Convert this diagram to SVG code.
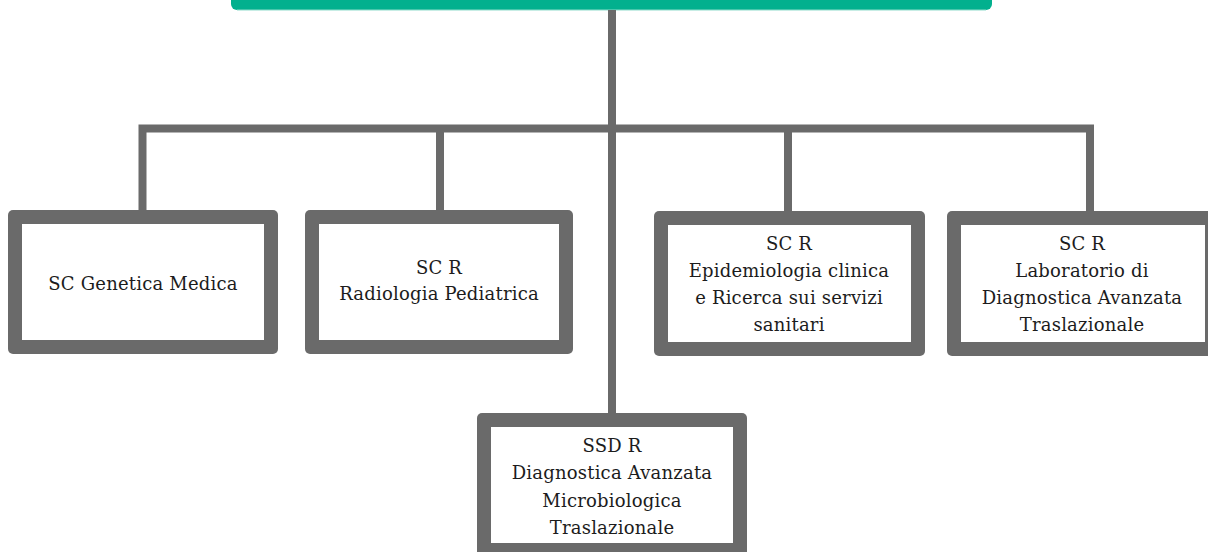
<svg xmlns="http://www.w3.org/2000/svg" width="1208" height="552" viewBox="0 0 1208 552">
<style>
.frame{fill:#6a6a6a}
.inner{fill:#ffffff}
.wire{fill:none;stroke:#6a6a6a;stroke-width:8;stroke-linejoin:miter}
.lbl{font-family:'DejaVu Serif',serif;font-size:18px;fill:#1c1c1c;text-anchor:middle;letter-spacing:0.2px}
</style>
<rect width="1208" height="552" fill="#ffffff"/>
<g id="header">
<rect x="231" y="-20" width="761" height="30" rx="6" fill="#02b08e"/>
<line x1="237" y1="10" x2="986" y2="10" stroke="#8fdccb" stroke-width="1"/>
</g>
<g id="connectors">
<line class="wire" x1="612" y1="10" x2="612" y2="414"/>
<path class="wire" d="M142.5,211 V128.5 H1090 V211"/>
<line class="wire" x1="440" y1="128" x2="440" y2="211"/>
<line class="wire" x1="788" y1="128" x2="788" y2="212"/>
</g>
<g id="node-genetica">
<rect class="frame" x="8" y="210" width="270" height="144" rx="5"/>
<rect class="inner" x="22" y="224" width="242" height="116"/>
<text class="lbl" x="143" y="290">SC Genetica Medica</text>
</g>
<g id="node-radiologia">
<rect class="frame" x="305" y="210" width="268" height="144" rx="5"/>
<rect class="inner" x="319" y="224" width="240" height="116"/>
<text class="lbl" x="439" y="274">SC R</text>
<text class="lbl" x="439" y="300">Radiologia Pediatrica</text>
</g>
<g id="node-epidemiologia">
<rect class="frame" x="654" y="211" width="271" height="145" rx="5"/>
<rect class="inner" x="668" y="225" width="243" height="117"/>
<text class="lbl" x="789" y="250">SC R</text>
<text class="lbl" x="789" y="277">Epidemiologia clinica</text>
<text class="lbl" x="789" y="304">e Ricerca sui servizi</text>
<text class="lbl" x="789" y="331">sanitari</text>
</g>
<g id="node-laboratorio">
<rect class="frame" x="947" y="211" width="272" height="145" rx="5"/>
<rect class="inner" x="961" y="225" width="244" height="117"/>
<text class="lbl" x="1082" y="250">SC R</text>
<text class="lbl" x="1082" y="277">Laboratorio di</text>
<text class="lbl" x="1082" y="304">Diagnostica Avanzata</text>
<text class="lbl" x="1082" y="331">Traslazionale</text>
</g>
<g id="node-ssd">
<rect class="frame" x="477" y="413" width="270" height="144" rx="5"/>
<rect class="inner" x="491" y="427" width="242" height="116"/>
<text class="lbl" x="612" y="452">SSD R</text>
<text class="lbl" x="612" y="479">Diagnostica Avanzata</text>
<text class="lbl" x="612" y="507">Microbiologica</text>
<text class="lbl" x="612" y="534">Traslazionale</text>
</g>
</svg>
